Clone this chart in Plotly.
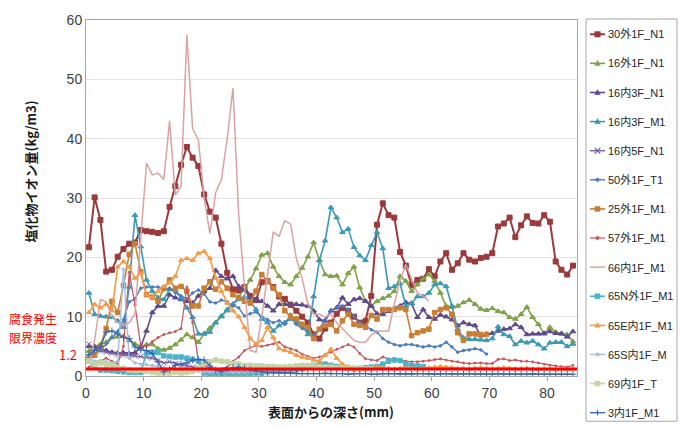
import plotly.graph_objects as go

# Sampling depths (mm) of the drilled-powder profiles
DEPTH = [0.5, 1.5, 2.5, 3.5, 4.5, 5.5, 6.5, 7.5, 8.5, 9.5,
         10.5, 11.5, 12.5, 13.5, 14.5, 15.5, 16.5, 17.5, 18.5, 19.5,
         20.5, 21.5, 22.5, 23.5, 24.5, 25.5, 26.5, 27.5, 28.5, 29.5,
         30.5, 31.5, 32.5, 33.5, 34.5, 35.5, 36.5, 37.5, 38.5, 39.5,
         40.5, 41.5, 42.5, 43.5, 44.5, 45.5, 46.5, 47.5, 48.5, 49.5,
         50.5, 51.5, 52.5, 53.5, 54.5, 55.5, 56.5, 57.5, 58.5, 59.5,
         60.5, 61.5, 62.5, 63.5, 64.5, 65.5, 66.5, 67.5, 68.5, 69.5,
         70.5, 71.5, 72.5, 73.5, 74.5, 75.5, 76.5, 77.5, 78.5, 79.5,
         80.5, 81.5, 82.5, 83.5, 84.5]

# Chloride content (kg/m3) per sample
s30_out_1F_N1 = [21.7, 30.1, 26.3, 17.6, 17.9, 20.1, 21.4, 22.3, 22.5, 24.6,
                 24.4, 24.3, 24.1, 24.4, 28.5, 32.0, 35.6, 38.6, 36.8, 35.4,
                 30.6, 27.7, 26.7, 22.3, 17.4, 14.6, 14.4, 15.0, 13.5, 12.8,
                 15.8, 16.0, 15.0, 13.4, 13.0, 12.0, 11.0, 10.0, 9.0, 7.0,
                 6.3, 8.0, 9.0, 10.5, 11.5, 11.0, 10.0, 9.0, 9.3, 13.5,
                 25.5, 29.1, 27.1, 26.7, 20.9, 18.6, 15.3, 16.2, 16.4, 18.0,
                 16.8, 19.3, 20.7, 17.9, 19.0, 20.7, 19.6, 19.3, 19.9, 20.1,
                 20.7, 25.2, 25.7, 26.7, 23.4, 25.4, 26.9, 25.8, 25.7, 27.1,
                 26.0, 19.3, 17.9, 17.1, 18.6]
s16_out_1F_N1 = [4.2, 5.0, 5.3, 5.7, 6.5, 6.6, 6.7, 6.0, 5.4, 5.0,
                 5.3, 5.3, 4.6, 4.4, 4.7, 5.3, 6.1, 7.0, 6.5, 5.7,
                 7.1, 8.1, 9.0, 10.0, 11.0, 12.1, 13.3, 14.8, 16.2, 18.1,
                 20.4, 20.7, 18.4, 16.8, 15.8, 15.4, 16.8, 18.2, 20.1, 22.5,
                 19.5, 17.1, 16.8, 16.9, 15.4, 17.3, 18.4, 14.9, 12.6, 11.8,
                 12.6, 13.1, 13.5, 14.3, 16.8, 16.0, 14.3, 15.4, 16.4, 17.1,
                 16.0, 14.0, 11.8, 11.6, 11.8, 12.4, 12.8, 12.1, 11.3, 11.1,
                 11.4, 10.9, 10.7, 9.9, 9.6, 10.4, 11.6, 9.9, 8.7, 7.1,
                 8.2, 7.4, 7.2, 7.0, 5.8]
s16_in_3F_N1 = [5.0, 4.9, 4.6, 4.3, 4.0, 3.9, 3.9, 3.8, 3.9, 4.9,
                7.6, 10.7, 11.8, 11.8, 13.7, 13.2, 12.9, 12.6, 12.3, 13.5,
                14.3, 14.8, 17.8, 16.8, 16.4, 16.8, 15.1, 14.5, 13.2, 12.9,
                12.6, 11.8, 11.0, 12.1, 12.1, 12.1, 12.1, 12.0, 11.8, 11.0,
                9.5, 9.3, 11.0, 11.5, 13.2, 12.1, 12.9, 13.1, 12.6, 11.8,
                10.5, 10.4, 10.9, 11.4, 11.8, 12.4, 12.2, 9.9, 11.2, 9.9,
                9.6, 10.3, 10.0, 9.5, 8.5, 9.0, 8.7, 8.5, 6.8, 7.1,
                7.2, 7.6, 7.9, 8.0, 8.7, 8.2, 7.0, 7.1, 7.1, 7.2,
                7.5, 7.2, 7.1, 6.6, 7.5]
s16_in_3F_M1 = [14.0, 10.4, 10.1, 10.0, 9.9, 9.3, 8.2, 15.0, 27.1, 21.8,
                16.2, 14.3, 13.2, 12.9, 14.6, 14.6, 13.2, 11.5, 9.9, 7.1,
                7.1, 7.4, 9.0, 10.1, 11.2, 12.1, 12.9, 13.3, 12.6, 11.2,
                9.6, 9.0, 7.6, 8.5, 9.0, 9.6, 9.0, 8.7, 7.0, 13.4,
                19.5, 22.8, 28.4, 26.7, 24.2, 24.8, 21.7, 20.3, 19.5, 22.0,
                24.2, 21.5, 14.8, 15.1, 15.6, 11.8, 12.3, 13.4, 13.4, 14.0,
                15.4, 15.6, 15.1, 11.8, 7.9, 6.4, 6.2, 6.2, 6.1, 6.0,
                6.3, 8.3, 7.0, 6.7, 5.3, 5.9, 5.6, 5.9, 5.3, 4.6,
                5.6, 5.7, 5.7, 5.0, 5.4]
s16_in_5F_N1 = [5.4, 4.5, 4.2, 4.0, 3.8, 3.6, 3.5, 3.5, 3.4, 3.3,
                3.2, 3.0, 2.6, 2.2, 2.4, 2.1, 1.9, 1.7, 1.5, 1.4,
                1.2, 1.1, 1.0, 0.9, 0.9, 0.8, 0.8, 0.8, 0.7, 0.7]
s50_out_1F_T1 = [3.5, 3.8, 4.3, 5.4, 6.5, 7.5, 9.5, 12.5, 13.0, 14.8,
                 15.0, 15.0, 15.0, 14.5, 14.8, 14.0, 13.5, 13.0, 14.0, 14.5,
                 13.8, 12.5, 12.3, 12.8, 12.5, 11.8, 11.5, 10.1, 10.5, 10.8,
                 10.0, 9.5, 9.0, 9.3, 8.7, 10.4, 8.7, 8.0, 7.6, 6.8,
                 8.0, 9.5, 11.0, 11.5, 11.8, 11.2, 10.0, 9.0, 8.5, 7.8,
                 7.4, 6.3, 5.7, 5.3, 5.1, 5.3, 5.3, 5.1, 4.9, 5.1,
                 4.9, 5.1, 5.7, 4.9, 4.0, 4.3, 4.4, 4.6, 4.4, 3.7]
s25_out_1F_M1 = [3.0, 3.5, 5.0, 8.0, 12.6, 10.7, 15.3, 20.5, 22.3, 17.6,
                 13.7, 13.3, 12.6, 14.8, 16.2, 14.8, 15.1, 14.3, 11.8, 11.8,
                 14.8, 15.9, 14.6, 15.9, 14.8, 13.7, 13.2, 12.6, 12.3, 14.3,
                 17.1, 15.9, 14.8, 13.7, 11.0, 10.0, 9.6, 8.7, 8.2, 6.3,
                 7.9, 8.5, 8.7, 7.6, 9.3, 10.4, 8.7, 8.5, 8.2, 10.2,
                 9.6, 11.2, 11.2, 11.2, 11.5, 11.2, 6.8, 7.3, 7.6, 7.9,
                 10.7, 11.2, 11.5, 10.4, 7.3, 6.0, 7.1, 7.1, 7.0, 7.0]
s57_out_1F_M1 = [1.5, 2.0, 2.5, 3.0, 2.5, 2.0, 5.0, 17.5, 12.0, 5.0,
                 5.0, 5.8, 6.5, 7.0, 7.3, 7.5, 8.0, 15.0, 9.0, 2.5,
                 1.8, 1.3, 1.0, 1.2, 1.5, 2.5, 3.2, 4.3, 4.8, 5.1,
                 5.0, 5.2, 5.4, 5.7, 4.9, 4.6, 4.3, 3.7, 3.3, 3.0,
                 3.2, 3.6, 4.0, 4.5, 4.9, 5.3, 4.9, 3.8, 2.9, 2.7,
                 2.6, 3.2, 2.9, 2.8, 2.6, 2.5, 2.4, 2.4, 2.5, 2.6,
                 2.8, 2.9, 2.7, 2.5, 2.4, 2.2, 2.1, 2.2, 2.2, 2.1,
                 2.1, 2.8, 2.9, 2.6, 2.7, 2.5, 2.5, 2.4, 2.2, 2.0,
                 1.8, 1.7, 1.6, 1.5, 1.8]
s66_in_1F_M1 = [2.0, 6.0, 12.9, 12.5, 10.0, 9.0, 8.5, 9.0, 10.5, 24.0,
                35.9, 33.9, 34.2, 33.1, 43.0, 30.5, 32.0, 57.5, 41.7, 39.8,
                30.0, 24.0, 30.9, 33.1, 40.0, 48.5, 27.0, 15.0, 4.3, 4.0,
                10.0, 17.0, 24.3, 23.5, 26.2, 25.6, 19.8, 16.5, 12.1, 10.4,
                10.4, 9.9, 10.5, 9.0, 8.0, 7.0, 6.0, 5.7, 5.7, 6.9,
                7.5, 7.6, 7.6, 12.2, 16.0, 18.8, 16.5, 14.0, 13.5, 12.6]
s65N_out_1F_M1 = [2.5, 1.5, 1.0, 1.0, 0.9, 0.8, 0.7, 0.6, 0.6, 0.6,
                  3.8, 4.0, 4.0, 3.4, 3.3, 3.2, 3.2, 3.0, 2.8, 2.5,
                  0.5, 0.3, 0.3, 0.3, 0.3, 0.4, 0.3, 0.3, 0.4, 0.5,
                  0.5, 0.7, 0.8, 0.8, 0.9, 1.0, 1.0, 1.2, 1.5, 1.8,
                  2.0, 2.0, 1.8, 1.6, 1.5, 1.3, 1.2, 1.3, 1.4, 1.5,
                  1.6, 2.0, 2.5, 2.7, 2.6, 2.0, 1.8, 1.7, 1.6]
s65E_in_1F_M1 = [10.7, 12.1, 11.5, 12.1, 11.0, 18.4, 19.3, 18.4, 16.5, 17.3,
                 13.7, 13.2, 14.3, 15.1, 15.7, 16.8, 19.5, 19.8, 19.5, 20.7,
                 21.0, 19.8, 16.5, 14.3, 12.3, 11.0, 10.0, 8.2, 6.3, 5.4,
                 6.0, 8.2, 6.5, 4.6, 4.3, 4.0, 3.5, 3.2, 3.0, 2.7,
                 2.5, 3.5, 4.5, 3.0, 2.0, 1.6, 1.4, 1.3, 1.3, 1.4,
                 1.5, 1.4, 1.3, 1.2, 1.3, 1.4, 1.3, 1.2, 1.3, 1.4,
                 1.5, 1.6, 1.5, 1.4, 1.3, 1.3, 1.2, 1.3, 1.4, 1.3,
                 1.2, 1.3, 1.4, 1.3, 1.2, 1.2, 1.3, 1.2, 1.1, 1.2,
                 1.2, 1.1, 1.2, 1.1, 1.2]
s65S_in_1F_M = [3.0, 2.5, 2.6, 2.4, 2.2, 2.5, 18.0, 3.0, 2.2, 2.0,
                1.9, 1.8, 1.6, 1.4, 1.2, 1.0, 0.9, 0.9, 0.8, 0.8,
                0.7, 0.7, 0.7, 0.6, 0.6, 0.6, 0.6, 0.6, 0.6, 0.6, 0.6]
s69_in_1F_T = [2.5, 2.0, 2.2, 2.0, 1.8, 1.5, 1.3, 1.0, 0.9, 1.0,
               0.8, 0.6, 0.5, 0.5, 0.5, 0.6, 0.5, 0.6, 0.8, 1.4,
               2.1, 2.4, 2.7, 2.5, 2.4, 2.1, 2.0, 1.8, 1.8, 1.7,
               1.7, 1.6, 1.6, 1.5, 1.5, 1.6, 1.7, 1.8, 1.8, 1.7,
               1.6, 1.5, 1.5, 1.4, 1.4, 1.3, 1.3, 1.2, 1.2, 1.2]
s3_in_1F_M1 = [3.6, 4.3, 4.9, 7.4, 7.6, 7.1, 6.5, 6.3, 4.9, 4.4,
               4.3, 3.8, 2.4, 0.7, 1.1, 1.8, 2.0, 2.2, 2.7, 2.8,
               2.7, 1.7, 1.0, 0.7, 1.1, 1.4, 1.5, 1.3, 1.0, 0.8,
               0.7, 0.6, 0.6, 0.5, 0.5, 0.5, 0.4, 0.4, 0.4, 0.4,
               0.4, 0.5, 0.4, 0.4, 0.4, 0.3, 0.4, 0.4, 0.4, 0.3,
               0.3, 0.4, 0.4, 0.4, 0.3, 0.3, 0.3, 0.4, 0.4, 0.3,
               0.3, 0.3, 0.4, 0.3, 0.3, 0.3, 0.4, 0.3, 0.3, 0.3,
               0.3, 0.4, 0.3, 0.3, 0.3, 0.3, 0.3, 0.4, 0.3, 0.3,
               0.3, 0.3, 0.3, 0.3, 0.3]

LIMIT = 1.2  # corrosion-onset threshold concentration

SERIES = [
    ("30外1F_N1", s30_out_1F_N1, "#9B3A3C", "square", 5, 2.0),
    ("16外1F_N1", s16_out_1F_N1, "#7FA247", "triangle-up", 5, 1.6),
    ("16内3F_N1", s16_in_3F_N1, "#5E4A8C", "triangle-up", 5, 1.6),
    ("16内3F_M1", s16_in_3F_M1, "#3A9AB4", "triangle-up", 5, 1.6),
    ("16内5F_N1", s16_in_5F_N1, "#7A5FA0", "x-thin", 5, 1.4),
    ("50外1F_T1", s50_out_1F_T1, "#4A7DC0", "circle", 2.5, 1.4),
    ("25外1F_M1", s25_out_1F_M1, "#C97E33", "square", 4.5, 1.6),
    ("57外1F_M1", s57_out_1F_M1, "#C9545A", "circle", 2, 1.2),
    ("66内1F_M1", s66_in_1F_M1, "#DBA2A3", None, 0, 1.5),
    ("65N外1F_M1", s65N_out_1F_M1, "#4BB3CA", "square", 4.5, 1.6),
    ("65E内1F_M1", s65E_in_1F_M1, "#F59A46", "triangle-up", 4.5, 1.6),
    ("65S内1F_M", s65S_in_1F_M, "#A7BDDB", "circle", 2.5, 1.4),
    ("69内1F_T", s69_in_1F_T, "#C5D4A4", "square", 4.5, 1.6),
    ("3内1F_M1", s3_in_1F_M1, "#3C66AE", "cross-thin", 5, 1.4),
]

# plot-area geometry in pixels
W, H = 683, 427
ML, MR, MT, MB = 86, 106, 14, 51
PW, PH = W - ML - MR, H - MT - MB


def px_x(px):
    return (px - ML) / PW


def px_y(py):
    return (MT + PH - py) / PH


fig = go.Figure()
for name, vals, color, symbol, msize, lw in SERIES:
    mode = "lines+markers" if symbol else "lines"
    marker = dict(symbol=symbol, size=msize, color=color,
                  line=dict(color=color, width=1)) if symbol else None
    fig.add_trace(go.Scatter(
        x=DEPTH[:len(vals)], y=vals, name=name,
        mode=mode, line=dict(color=color, width=lw), marker=marker,
    ))

shapes = [
    # threshold line
    dict(type="line", xref="paper", yref="y", x0=0, x1=1,
         y0=LIMIT, y1=LIMIT, line=dict(color="#FF0000", width=3)),
    # legend frame
    dict(type="rect", xref="paper", yref="paper",
         x0=px_x(586), x1=px_x(677), y0=px_y(13), y1=px_y(422),
         line=dict(color="#A6A6A6", width=1), fillcolor="rgba(0,0,0,0)"),
]

jp = "Noto Sans CJK JP"
legend_font = dict(family="Liberation Sans Narrow, Liberation Sans, " + jp,
                   size=11, color="#262626")
annotations = []

# legend entries: short line + marker glyph + label
for i, (name, vals, color, symbol, msize, lw) in enumerate(SERIES):
    cy = 28.5 + 29.6 * i
    x0, x1, cx = 590, 605, 597.5
    shapes.append(dict(type="line", xref="paper", yref="paper",
                       x0=px_x(x0), x1=px_x(x1), y0=px_y(cy), y1=px_y(cy),
                       line=dict(color=color, width=lw)))
    r = max(msize, 3) / 2 + 0.3
    if symbol == "square":
        shapes.append(dict(type="rect", xref="paper", yref="paper",
                           x0=px_x(cx - r), x1=px_x(cx + r),
                           y0=px_y(cy - r), y1=px_y(cy + r),
                           line=dict(color=color, width=0.5), fillcolor=color))
    elif symbol == "triangle-up":
        path = "M {:.5f},{:.5f} L {:.5f},{:.5f} L {:.5f},{:.5f} Z".format(
            px_x(cx - r), px_y(cy + r * 0.8), px_x(cx + r), px_y(cy + r * 0.8),
            px_x(cx), px_y(cy - r * 1.1))
        shapes.append(dict(type="path", xref="paper", yref="paper", path=path,
                           line=dict(color=color, width=0.5), fillcolor=color))
    elif symbol == "circle":
        shapes.append(dict(type="circle", xref="paper", yref="paper",
                           x0=px_x(cx - r), x1=px_x(cx + r),
                           y0=px_y(cy - r), y1=px_y(cy + r),
                           line=dict(color=color, width=0.5), fillcolor=color))
    elif symbol == "x-thin":
        for a, b in ((-1, 1), (1, -1)):
            shapes.append(dict(type="line", xref="paper", yref="paper",
                               x0=px_x(cx - r), x1=px_x(cx + r),
                               y0=px_y(cy + a * r), y1=px_y(cy + b * r),
                               line=dict(color=color, width=1.2)))
    elif symbol == "cross-thin":
        shapes.append(dict(type="line", xref="paper", yref="paper",
                           x0=px_x(cx), x1=px_x(cx),
                           y0=px_y(cy - r), y1=px_y(cy + r),
                           line=dict(color=color, width=1.2)))
    annotations.append(dict(text=name, xref="paper", yref="paper",
                            x=px_x(606), y=px_y(cy), xanchor="left",
                            yanchor="middle", showarrow=False,
                            font=legend_font))


def note(text, px, py, size, color, bold=False, angle=0):
    return dict(text="<b>%s</b>" % text if bold else text,
                xref="paper", yref="paper", x=px_x(px), y=px_y(py),
                xanchor="center", yanchor="middle", textangle=angle,
                showarrow=False, font=dict(family=jp, size=size, color=color))


annotations += [
    note("塩化物イオン量(kg/m3)", 30, 168, 13, "#1A1A1A", bold=True, angle=-90),
    note("表面からの深さ(mm)", 331, 412, 13, "#1A1A1A", bold=True),
    note("腐食発生", 33, 318, 12, "#FF0000"),
    note("限界濃度", 33, 337, 12, "#FF0000"),
    note("1.2", 68, 354, 13, "#FF0000"),
]

tick_font = dict(family="Liberation Sans Narrow, Liberation Sans, sans-serif",
                 size=14, color="#404040")

fig.update_layout(
    width=W, height=H,
    margin=dict(l=ML, r=MR, t=MT, b=MB),
    paper_bgcolor="white", plot_bgcolor="white",
    showlegend=False,
    xaxis=dict(range=[0, 85.2], tickvals=[0, 10, 20, 30, 40, 50, 60, 70, 80],
               showgrid=False, zeroline=False, showline=True,
               linecolor="#A6A6A6", linewidth=1, mirror=True,
               ticks="outside", ticklen=4, tickcolor="#A6A6A6",
               tickfont=tick_font),
    yaxis=dict(range=[0, 60], dtick=10, showgrid=True, gridcolor="#E3E3E3",
               zeroline=False, showline=True, linecolor="#A6A6A6",
               linewidth=1, mirror=True, ticks="", tickfont=tick_font),
    shapes=shapes,
    annotations=annotations,
)

fig.write_html("out.html")
